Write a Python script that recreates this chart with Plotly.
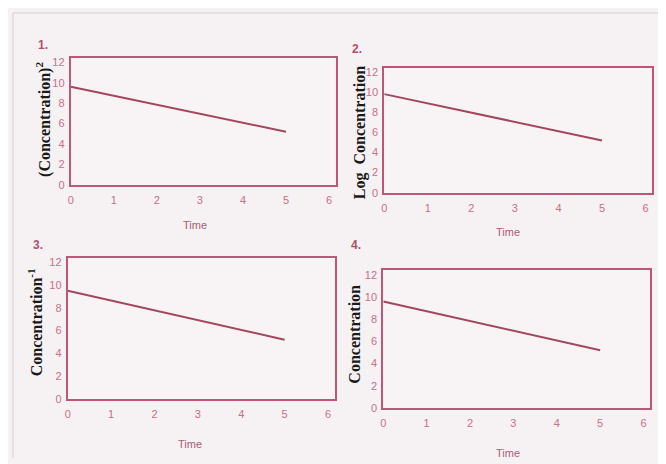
import plotly.graph_objects as go

# The page body has an 8px margin, so the figure is drawn 8px in and 8px down.
OFF = 8
W, H = 666 - OFF, 464 - OFF

time = [0, 5]
conc_squared = [9.6, 5.2]
log_conc = [9.8, 5.2]
conc_inverse = [9.5, 5.2]
conc = [9.6, 5.2]

x_ticks = [0, 1, 2, 3, 4, 5, 6]
y_ticks = [0, 2, 4, 6, 8, 10, 12]

panel_numbers = ["1.", "2.", "3.", "4."]
y_titles = ["(Concentration)<sup>2</sup>", "Log  Concentration",
            "Concentration<sup>-1</sup>", "Concentration"]
x_title = "Time"

series = [conc_squared, log_conc, conc_inverse, conc]

# pixel boxes in the reference picture (left, right, top, bottom)
boxes = [(68, 334, 57, 186), (383, 652, 67, 194), (65, 333, 260, 404), (382, 650, 273, 413)]
title_pos = [(40, 119), (358, 133), (33, 326), (353, 338)]
time_pos = [(193, 227), (507, 234), (188, 450), (507, 459)]
num_pos = [(40, 44), (356, 48), (35, 247), (355, 247)]

BOX = "#bf5677"
LINE = "#a3475f"
TICK = "#c9708a"
BG = "#f6f1f3"


def px(x):
    return (x - OFF) / W


def py(y):
    return 1 - (y - OFF) / H


fig = go.Figure()
layout = {}
annotations = []
for i in range(4):
    l, r, t, b = boxes[i]
    suffix = "" if i == 0 else str(i + 1)
    xa, ya = "xaxis" + suffix, "yaxis" + suffix
    fig.add_trace(go.Scatter(x=time, y=series[i], mode="lines",
                             line=dict(color=LINE, width=2),
                             xaxis="x" + suffix, yaxis="y" + suffix,
                             showlegend=False))
    layout[xa] = dict(domain=[px(l), px(r)], range=[0, 6.15], anchor="y" + suffix,
                      tickvals=x_ticks, showgrid=False, zeroline=False,
                      showline=True, mirror=True, linecolor=BOX, linewidth=2,
                      ticks="", ticklabelstandoff=4,
                      tickfont=dict(color=TICK, size=11, family="Liberation Sans"))
    layout[ya] = dict(domain=[py(b), py(t)], range=[0, 12.4], anchor="x" + suffix,
                      tickvals=y_ticks, showgrid=False, zeroline=False,
                      showline=True, mirror=True, linecolor=BOX, linewidth=2,
                      ticks="", ticklabelstandoff=2,
                      tickfont=dict(color=TICK, size=11, family="Liberation Sans"))
    tx, ty = title_pos[i]
    annotations.append(dict(x=px(tx), y=py(ty), xref="paper", yref="paper",
                            text="<b>" + y_titles[i] + "</b>", textangle=-90,
                            showarrow=False, xanchor="center", yanchor="middle",
                            font=dict(family="Liberation Serif", size=16, color="#1a1a1a")))
    qx, qy = time_pos[i]
    annotations.append(dict(x=px(qx), y=py(qy), xref="paper", yref="paper",
                            text=x_title, showarrow=False,
                            xanchor="center", yanchor="middle",
                            font=dict(family="Liberation Sans", size=11, color="#a85f78")))
    nx, ny = num_pos[i]
    annotations.append(dict(x=px(nx), y=py(ny), xref="paper", yref="paper",
                            text="<b>" + panel_numbers[i] + "</b>", showarrow=False,
                            xanchor="center", yanchor="middle",
                            font=dict(family="Liberation Sans", size=12, color="#b2506d")))

fig.update_layout(width=W, height=H, margin=dict(l=0, r=0, t=0, b=0),
                  paper_bgcolor=BG, plot_bgcolor="#f8f4f6",
                  annotations=annotations, **layout,
                  shapes=[dict(type="line", xref="paper", yref="paper",
                               x0=px(10), x1=1, y0=py(11), y1=py(11),
                               line=dict(color="#d2d0d2", width=1)),
                          dict(type="line", xref="paper", yref="paper",
                               x0=px(10), x1=px(10), y0=0, y1=py(11),
                               line=dict(color="#d2d0d2", width=1))])

fig.write_html("out.html")
